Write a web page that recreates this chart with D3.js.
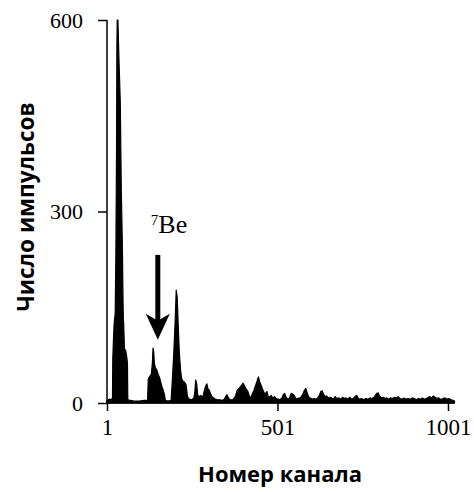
<!DOCTYPE html>
<html>
<head>
<meta charset="utf-8">
<script src="https://cdn.jsdelivr.net/npm/d3@7"></script>
<style>
  body { margin: 0; background: white; }
</style>
</head>
<body>
<div id="chart"></div>
<script>
// Spectrum: channel number and count
const channels = [1, 8, 14, 17, 18, 20, 22, 25, 27, 29, 30, 31, 33, 36, 40, 43, 46, 48, 49, 50, 52, 56, 59, 61, 62,
    70, 80, 95, 110, 120, 122, 127, 131, 134, 136, 138, 140, 143, 147, 151, 155, 158, 162, 166, 170, 172,
    180, 189, 192, 197, 201, 204, 207, 210, 213, 217, 220, 224, 229, 233, 237, 242, 250, 256, 259, 261,
    264, 267, 272, 276, 281, 286, 290, 294, 297, 301, 305, 309, 314, 318, 325, 332, 338, 345, 349, 353,
    357, 362, 370, 377, 383, 390, 396, 400, 404, 409, 414, 419, 422, 427, 432, 437, 441, 445, 449, 453,
    457, 461, 465, 470, 474, 478, 482, 487, 492, 497, 503, 508, 514, 518, 522, 526, 531, 536, 541, 546,
    550, 555, 560, 566, 571, 576, 580, 584, 588, 592, 597, 603, 608, 614, 619, 624, 628, 632, 636, 640,
    645, 650, 655, 660, 665, 670, 675, 681, 687, 692, 697, 702, 708, 713, 718, 723, 728, 733, 737, 742,
    748, 754, 760, 766, 772, 778, 784, 788, 792, 796, 800, 806, 811, 817, 822, 827, 832, 838, 844, 850,
    855, 860, 866, 872, 878, 884, 890, 896, 902, 908, 914, 920, 926, 932, 938, 943, 948, 953, 958, 963,
    968, 974, 980, 986, 992, 998, 1004, 1010, 1016, 1020];
const counts = [4, 6, 5, 8, 70, 100, 125, 140, 230, 400, 560, 600, 600, 540, 470, 330, 250, 160, 130, 125, 85, 82, 72, 62, 5,
    4, 3, 3, 4, 4, 38, 42, 45, 62, 86, 80, 62, 55, 52, 45, 40, 34, 26, 20, 12, 4,
    3, 4, 30, 80, 130, 177, 165, 120, 80, 50, 38, 34, 32, 28, 10, 6, 5, 8, 20, 36,
    30, 12, 10, 12, 8, 18, 26, 30, 22, 20, 14, 10, 8, 6, 5, 5, 4, 6, 10, 13,
    8, 5, 5, 10, 20, 24, 28, 31, 27, 22, 18, 10, 8, 14, 20, 28, 34, 41, 33, 28,
    22, 17, 14, 18, 10, 9, 12, 8, 10, 7, 6, 5, 8, 13, 15, 9, 6, 8, 15, 14,
    12, 6, 7, 8, 10, 15, 20, 23, 16, 10, 8, 6, 7, 6, 8, 12, 18, 19, 14, 10,
    11, 8, 9, 8, 6, 10, 7, 8, 6, 9, 7, 8, 6, 9, 6, 7, 10, 12, 8, 6,
    7, 5, 7, 6, 8, 7, 9, 12, 15, 16, 11, 8, 9, 7, 8, 6, 8, 7, 9, 8,
    10, 7, 6, 8, 6, 7, 6, 8, 7, 5, 7, 6, 8, 6, 7, 9, 10, 8, 11, 9,
    7, 8, 5, 7, 8, 6, 7, 5, 4, 3];

const xTicks = [1, 501, 1001];
const yTicks = [0, 300, 600];

// 7Be annotation: channel of the arrow and the counts at its tail and tip
const beChannel = 150;
const beArrowTop = 232;
const beArrowTip = 99;

const data = channels.map((c, i) => ({ ch: c, n: counts[i] }));

let width = 474, height = 492;
let margin = { top: 20, bottom: 89, left: 107, right: 26 };

let svg = d3.select("#chart")
    .append("svg")
    .attr("width", width)
    .attr("height", height)
    .style("background", "white");

let x = d3.scaleLinear()
    .domain([1, 1001])
    .range([margin.left, width - margin.right]);

let y = d3.scaleLinear()
    .domain([0, 600])
    .range([height - margin.bottom, margin.top]);

// spectrum as a filled black area
let area = d3.area()
    .x(d => x(d.ch))
    .y0(y(0))
    .y1(d => y(d.n));

svg.append("path")
    .datum(data)
    .attr("d", area)
    .attr("fill", "black")
    .attr("stroke", "black")
    .attr("stroke-width", 1.2)
    .attr("stroke-linejoin", "round");

// y axis
let yAxis = svg.append("g")
    .attr("transform", `translate(${margin.left},0)`)
    .call(d3.axisLeft(y).tickValues(yTicks).tickSize(9).tickPadding(15).tickFormat(d3.format("d")));
yAxis.select(".domain").remove();
yAxis.selectAll("line").attr("stroke-width", 1.5);
yAxis.selectAll("text")
    .style("font-family", "'Liberation Serif', 'Times New Roman', serif")
    .style("font-size", "22px")
    .attr("fill", "black");

svg.append("line")
    .attr("x1", x(1)).attr("x2", x(1))
    .attr("y1", y(600)).attr("y2", y(0))
    .attr("stroke", "black")
    .attr("stroke-width", 1.5);

// x axis
let xAxis = svg.append("g")
    .attr("transform", `translate(0,${y(0)})`)
    .call(d3.axisBottom(x).tickValues(xTicks).tickSize(8).tickPadding(8).tickFormat(d3.format("d")));
xAxis.select(".domain").remove();
xAxis.selectAll("line").attr("stroke-width", 1.5);
xAxis.selectAll("text")
    .style("font-family", "'Liberation Serif', 'Times New Roman', serif")
    .style("font-size", "23px")
    .attr("fill", "black");

svg.append("line")
    .attr("x1", x(1)).attr("x2", x(1021))
    .attr("y1", y(0)).attr("y2", y(0))
    .attr("stroke", "black")
    .attr("stroke-width", 1.5);

// axis titles
svg.append("text")
    .attr("x", 280)
    .attr("y", 482)
    .attr("text-anchor", "middle")
    .style("font-family", "'Open Sans', sans-serif")
    .style("font-weight", "bold")
    .style("font-size", "22px")
    .text("Номер канала");

svg.append("text")
    .attr("transform", "rotate(-90)")
    .attr("x", -207)
    .attr("y", 34)
    .attr("text-anchor", "middle")
    .style("font-family", "'Open Sans', sans-serif")
    .style("font-weight", "bold")
    .style("font-size", "22.5px")
    .text("Число импульсов");

// arrow pointing at the 7Be peak
let ax = x(beChannel);
let tipY = y(beArrowTip);
svg.append("line")
    .attr("x1", ax).attr("x2", ax)
    .attr("y1", y(beArrowTop)).attr("y2", tipY - 12)
    .attr("stroke", "black")
    .attr("stroke-width", 5);

svg.append("path")
    .attr("d", `M${ax - 12},${tipY - 26} L${ax},${tipY - 19} L${ax + 12},${tipY - 26} L${ax},${tipY} Z`)
    .attr("fill", "black");

let label = svg.append("text")
    .attr("x", ax - 7)
    .attr("y", y(beArrowTop) - 22)
    .style("font-family", "'Liberation Serif', 'Times New Roman', serif")
    .attr("fill", "black");
label.append("tspan")
    .style("font-size", "15px")
    .attr("dy", -8)
    .text("7");
label.append("tspan")
    .style("font-size", "26px")
    .attr("dy", 8)
    .text("Be");
</script>
</body>
</html>
